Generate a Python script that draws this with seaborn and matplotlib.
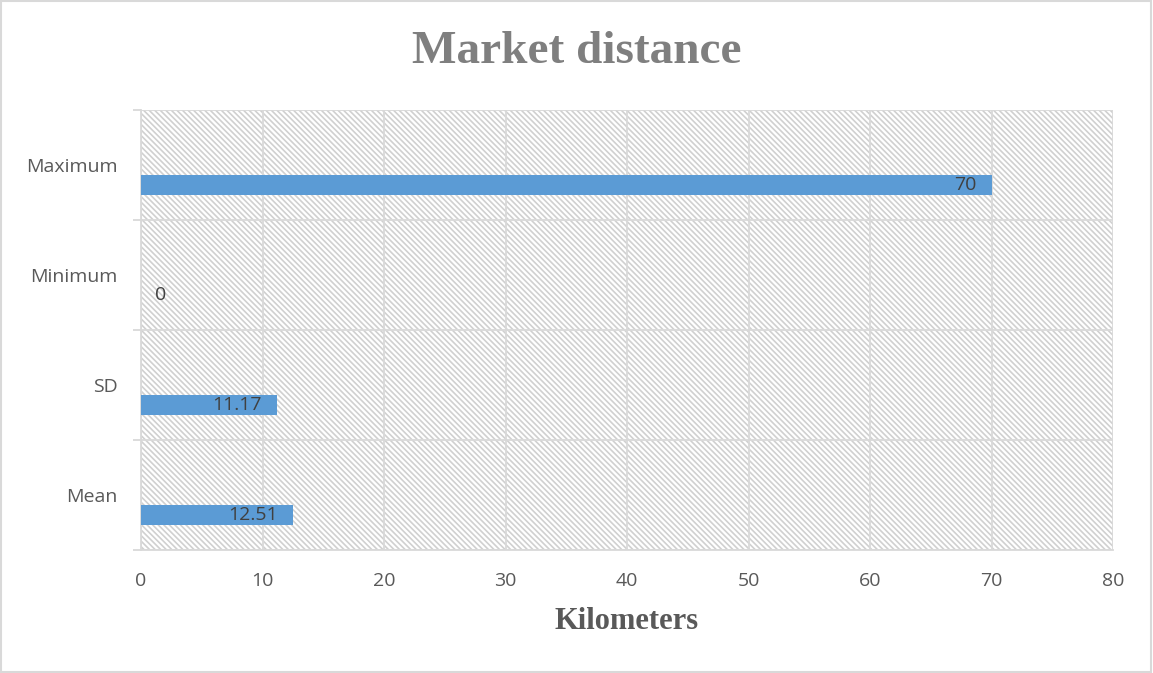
import numpy as np
import pandas as pd
import matplotlib
matplotlib.use("Agg")
import matplotlib.pyplot as plt
import matplotlib.patches as mpatches
from matplotlib.transforms import offset_copy
import seaborn as sns

# data
categories = ["Maximum", "Minimum", "SD", "Mean"]
values = [70, 0, 11.17, 12.51]
value_labels = ["70", "0", "11.17", "12.51"]
x_ticks = [0, 10, 20, 30, 40, 50, 60, 70, 80]

BAR_COLOR = "#5B9BD5"
GRID_COLOR = "#D9D9D9"
TEXT_COLOR = "#595959"

sns.set_theme(style="white")
plt.rcParams["font.family"] = ["Open Sans", "DejaVu Sans"]
plt.rcParams["hatch.linewidth"] = 1.2

# clustered layout: only the third of three series holds values
hue_levels = ["s1", "s2", "Value"]
df = pd.DataFrame({
    "category": categories * 3,
    "series": np.repeat(hue_levels, len(categories)),
    "value": [0] * len(categories) * 2 + values,
})

fig = plt.figure(figsize=(11.53, 6.73), dpi=100)
ax = fig.add_axes([141 / 1153, 1 - 550 / 673, (1113 - 141) / 1153, 440 / 673])

sns.barplot(data=df, y="category", x="value", hue="series", hue_order=hue_levels,
            order=categories, orient="h", width=0.54, dodge=True, saturation=1,
            palette=["none", "none", BAR_COLOR], linewidth=0, legend=False,
            errorbar=None, ax=ax, zorder=3)

ax.set_xlim(0, 80)
ax.set_ylim(len(categories) - 0.5, -0.5)

# hatched plot area
ax.add_patch(mpatches.Rectangle((0, 0), 1, 1, transform=ax.transAxes,
                                facecolor="white", edgecolor="#D0D0D0",
                                hatch="\\" * 6, lw=0, zorder=0))

# gridlines
for x in x_ticks:
    ax.axvline(x, color=GRID_COLOR, lw=1.3, zorder=1)
for b in np.arange(-0.5, len(categories), 1.0):
    ax.axhline(b, color=GRID_COLOR, lw=1.3, zorder=1)

for s in ["top", "right"]:
    ax.spines[s].set_visible(False)
for s in ["left", "bottom"]:
    ax.spines[s].set_color(GRID_COLOR)
    ax.spines[s].set_linewidth(1.3)

ax.set_xticks(x_ticks)
ax.set_xticklabels([str(t) for t in x_ticks])
ax.set_yticks(range(len(categories)))
ax.set_yticklabels(categories)
ax.set_yticks(np.arange(-0.5, len(categories), 1.0), minor=True)
ax.tick_params(axis="y", which="major", length=0, pad=17, labelsize=14, labelcolor=TEXT_COLOR)
ax.tick_params(axis="y", which="minor", length=6, width=1.3, color=GRID_COLOR, left=True)
ax.tick_params(axis="x", length=0, pad=16, labelsize=14, labelcolor=TEXT_COLOR)
ax.set_ylabel("")
ax.set_xlabel("Kilometers", fontsize=22, fontweight="bold", color=TEXT_COLOR,
              family="Liberation Serif", labelpad=12)

# data labels
bars = ax.containers[2]
for rect, val, lab in zip(bars.patches, values, value_labels):
    yc = rect.get_y() + rect.get_height() / 2
    if val > 0:
        tr = offset_copy(ax.transData, fig=fig, x=-15, y=0, units="dots")
        ax.text(val, yc, lab, ha="right", va="center", fontsize=14,
                color="#404040", transform=tr, zorder=4)
    else:
        tr = offset_copy(ax.transData, fig=fig, x=14, y=0, units="dots")
        ax.text(val, yc, lab, ha="left", va="center", fontsize=14,
                color="#404040", transform=tr, zorder=4)

fig.text(0.5, 1 - 52 / 673, "Market distance", ha="center", va="center",
         fontsize=34, fontweight="bold", color="#7F7F7F", family="Liberation Serif")

# chart border
fig.add_artist(mpatches.Rectangle((0.001, 0.001), 0.997, 0.997, transform=fig.transFigure,
                                  facecolor="none", edgecolor=GRID_COLOR, lw=1.5))

fig.savefig("out.png", dpi=100)
